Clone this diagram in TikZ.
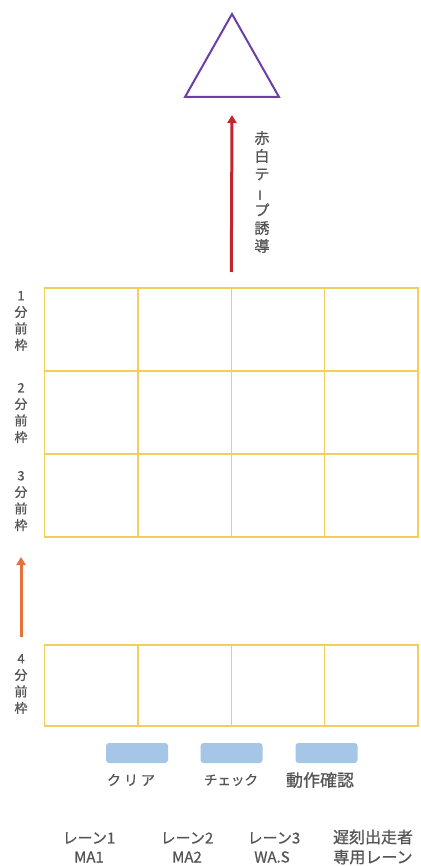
\documentclass[tikz,border=0pt]{standalone}
\usepackage{fontspec}
\setmainfont{Noto Sans CJK JP}[FakeBold=0.8]
\usetikzlibrary{arrows.meta}
\definecolor{gridY}{HTML}{F0CF5E}
\definecolor{triP}{HTML}{6A3FA8}
\definecolor{arrR}{HTML}{C0262C}
\definecolor{arrO}{HTML}{E8703A}
\definecolor{btnB}{HTML}{A6C6E8}
\definecolor{txtG}{HTML}{555555}
\tikzset{
  cell/.style={draw=gridY, line width=1.3pt, minimum width=93.4pt, minimum height=83pt, inner sep=0pt, outer sep=0pt},
  lowcell/.style={cell, minimum height=81pt},
  vlabel/.style={text=txtG, align=center, inner sep=0pt, font=\fontsize{13}{16.5}\selectfont},
  btn/.style={fill=btnB, rounded corners=3pt, minimum width=62pt, minimum height=20pt, inner sep=0pt},
  lbl/.style={text=txtG, inner sep=0pt},
  bigarrow/.style={line width=3pt, -{Triangle[length=8pt,width=9pt]}},
}
\begin{document}
\begin{tikzpicture}[x=1pt,y=-1pt]
\useasboundingbox[fill=white] (0,0) rectangle (420,866);

% triangle
\coordinate (tA) at (232,14);
\coordinate (tL) at (185,97);
\coordinate (tR) at (279,97);
\coordinate (tbase) at (232,97);
\draw[triP, line width=2pt, line join=miter] (tA) -- (tL) -- (tR) -- cycle;

% grid
\foreach \r/\y in {1/329.5, 2/412.5, 3/495.5}{
  \foreach \c/\x in {1/91.2, 2/184.6, 3/278.0, 4/371.4}{
    \node[cell] (c\r\c) at (\x,\y) {};
  }
}
\foreach \c/\x in {1/91.2, 2/184.6, 3/278.0, 4/371.4}{
  \node[lowcell] (d\c) at (\x,685.5) {};
}

% red arrow
\coordinate (rS) at ([yshift=16pt]c12.north east);
\coordinate (rE) at ([yshift=-18pt]tbase);
\draw[bigarrow, arrR] (rS) -- (rE);
\node[lbl, align=center, font=\fontsize{15}{18}\selectfont] (tape) at (262,192)
  {赤\\白\\テ\\\rotatebox[origin=c]{90}{\fontsize{12}{12}\selectfont ー}\\プ\\誘\\導};

% orange arrow
\coordinate (oS) at (21,637);
\coordinate (oE) at (21,557);
\draw[bigarrow, arrO] (oS) -- (oE);

% left labels
\node[vlabel] (v1) at (21,321) {1\\分\\前\\枠};
\node[vlabel] (v2) at (21,413) {2\\分\\前\\枠};
\node[vlabel] (v3) at (21,501) {3\\分\\前\\枠};
\node[vlabel] (v4) at (21,684) {4\\分\\前\\枠};

% buttons
\node[btn] (b1) at (137,753) {};
\node[btn] (b2) at (231.5,753) {};
\node[btn] (b3) at (326.5,753) {};
\node[lbl, font=\fontsize{14}{14}\selectfont] (l1) at (131,780) {ク\hspace{3pt}リ\hspace{3pt}ア};
\node[lbl, font=\fontsize{13.5}{14}\selectfont] (l2) at (231,780) {チェック};
\node[lbl, font=\fontsize{17}{17}\selectfont] (l3) at (320,780) {動作確認};

% lanes
\node[lbl, font=\fontsize{15}{15}\selectfont] (n1) at (89,838) {レーン1};
\node[lbl, font=\fontsize{15}{15}\selectfont] (m1) at (89,857) {MA1};
\node[lbl, font=\fontsize{15}{15}\selectfont] (n2) at (187,838) {レーン2};
\node[lbl, font=\fontsize{15}{15}\selectfont] (m2) at (187,857) {MA2};
\node[lbl, font=\fontsize{15}{15}\selectfont] (n3) at (274,838) {レーン3};
\node[lbl, font=\fontsize{15}{15}\selectfont] (m3) at (272,857) {WA.S};
\node[lbl, font=\fontsize{16}{16}\selectfont] (n4) at (373,837) {遅刻出走者};
\node[lbl, font=\fontsize{16}{16}\selectfont] (m4) at (373,857) {専用レーン};
\end{tikzpicture}
\end{document}
